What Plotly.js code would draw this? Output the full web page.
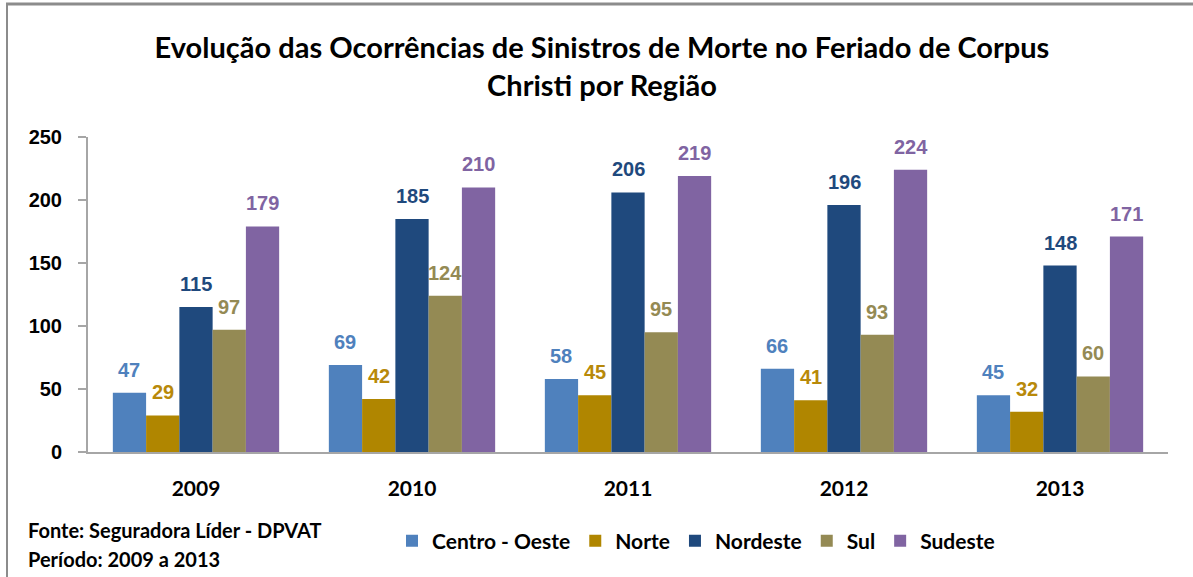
<!DOCTYPE html>
<html>
<head>
<meta charset="utf-8">
<script src="https://cdn.plot.ly/plotly-3.0.1.min.js"></script>
<style>html,body{margin:0;padding:0;background:#fff;}#chart{width:1193px;height:577px;}</style>
</head>
<body>
<div id="chart"></div>
<script>
var years = ['2009', '2010', '2011', '2012', '2013'];
var seriesNames = ['Centro - Oeste', 'Norte', 'Nordeste', 'Sul', 'Sudeste'];
var centroOeste = [47, 69, 58, 66, 45];
var norte = [29, 42, 45, 41, 32];
var nordeste = [115, 185, 206, 196, 148];
var sul = [97, 124, 95, 93, 60];
var sudeste = [179, 210, 219, 224, 171];
var colors = ['#4F81BD', '#B08600', '#1F497D', '#948A54', '#8064A2'];
var labelColors = ['#4F81BD', '#B8890A', '#1F497D', '#948A54', '#8064A2'];
var titleText = 'Evolução das Ocorrências de Sinistros de Morte no Feriado de Corpus<br>Christi por Região';
var sourceLines = ['Fonte: Seguradora Líder - DPVAT', 'Período: 2009 a 2013'];

var allSeries = [centroOeste, norte, nordeste, sul, sudeste];
var bargap = 0.23;
var W = 1193, H = 577;
var L = 88, R = 25, T = 137, B = 125;
var pw = W - L - R, ph = H - T - B;
function px2x(p) { return (p - L) / pw; }
function py2y(p) { return (H - B - p) / ph; }

var traces = allSeries.map(function (vals, j) {
  return {
    type: 'bar', name: seriesNames[j], x: years, y: vals,
    marker: {color: colors[j], line: {width: 0}},
    hoverinfo: 'y+name'
  };
});

var annotations = [];
var bw = (1 - bargap) / allSeries.length;
allSeries.forEach(function (vals, j) {
  vals.forEach(function (v, i) {
    annotations.push({
      xref: 'x', yref: 'y', x: i + (j - (allSeries.length - 1) / 2) * bw, y: v,
      text: String(v), showarrow: false, yanchor: 'bottom', yshift: 10,
      font: {family: 'Liberation Sans, Arial, sans-serif', size: 20, color: labelColors[j], weight: 'bold'}
    });
  });
});
sourceLines.forEach(function (t, k) {
  annotations.push({
    xref: 'paper', yref: 'paper', x: px2x(26), y: py2y(530 + k * 29),
    xanchor: 'left', yanchor: 'middle', showarrow: false, text: t,
    font: {family: 'Lato, Carlito, sans-serif', size: 20, color: '#000', weight: 'bold'}
  });
});

var layout = {
  width: W, height: H,
  margin: {l: L, r: R, t: T, b: B},
  paper_bgcolor: '#fff', plot_bgcolor: '#fff',
  title: {
    text: titleText, x: 602 / W, xref: 'container', xanchor: 'center',
    y: 1 - 58 / H, yanchor: 'middle',
    font: {family: 'Lato, Carlito, sans-serif', size: 29, color: '#000', weight: 'bold'}
  },
  barmode: 'group', bargap: bargap, bargroupgap: 0,
  showlegend: true,
  legend: {
    orientation: 'h', x: px2x(392), y: py2y(541), xanchor: 'left', yanchor: 'middle',
    font: {family: 'Lato, Carlito, sans-serif', size: 21, color: '#000', weight: 'bold'},
    itemwidth: 30, tracegroupgap: 0, traceorder: 'normal'
  },
  xaxis: {
    type: 'category', showline: true, linecolor: '#A6A6A6', linewidth: 2,
    ticks: '', showgrid: false, zeroline: false,
    tickfont: {family: 'Lato, Carlito, sans-serif', size: 21, color: '#000', weight: 'bold'},
    ticklabelstandoff: 17
  },
  yaxis: {
    range: [0, 250], tickvals: [0, 50, 100, 150, 200, 250],
    showline: true, linecolor: '#A6A6A6', linewidth: 2,
    ticks: 'outside', ticklen: 8, tickwidth: 1.5, tickcolor: '#A6A6A6',
    showgrid: false, zeroline: false,
    tickfont: {family: 'Liberation Sans, Arial, sans-serif', size: 20, color: '#000', weight: 'bold'},
    ticklabelstandoff: 12
  },
  annotations: annotations,
  shapes: [
    {type: 'line', xref: 'paper', yref: 'paper', x0: px2x(6), x1: px2x(1193), y0: py2y(4), y1: py2y(4), line: {color: '#8C8C8C', width: 3}},
    {type: 'line', xref: 'paper', yref: 'paper', x0: px2x(7), x1: px2x(7), y0: py2y(4), y1: py2y(577), line: {color: '#8C8C8C', width: 2}}
  ]
};

Plotly.newPlot('chart', traces, layout, {displayModeBar: false, staticPlot: false});
</script>
</body>
</html>
